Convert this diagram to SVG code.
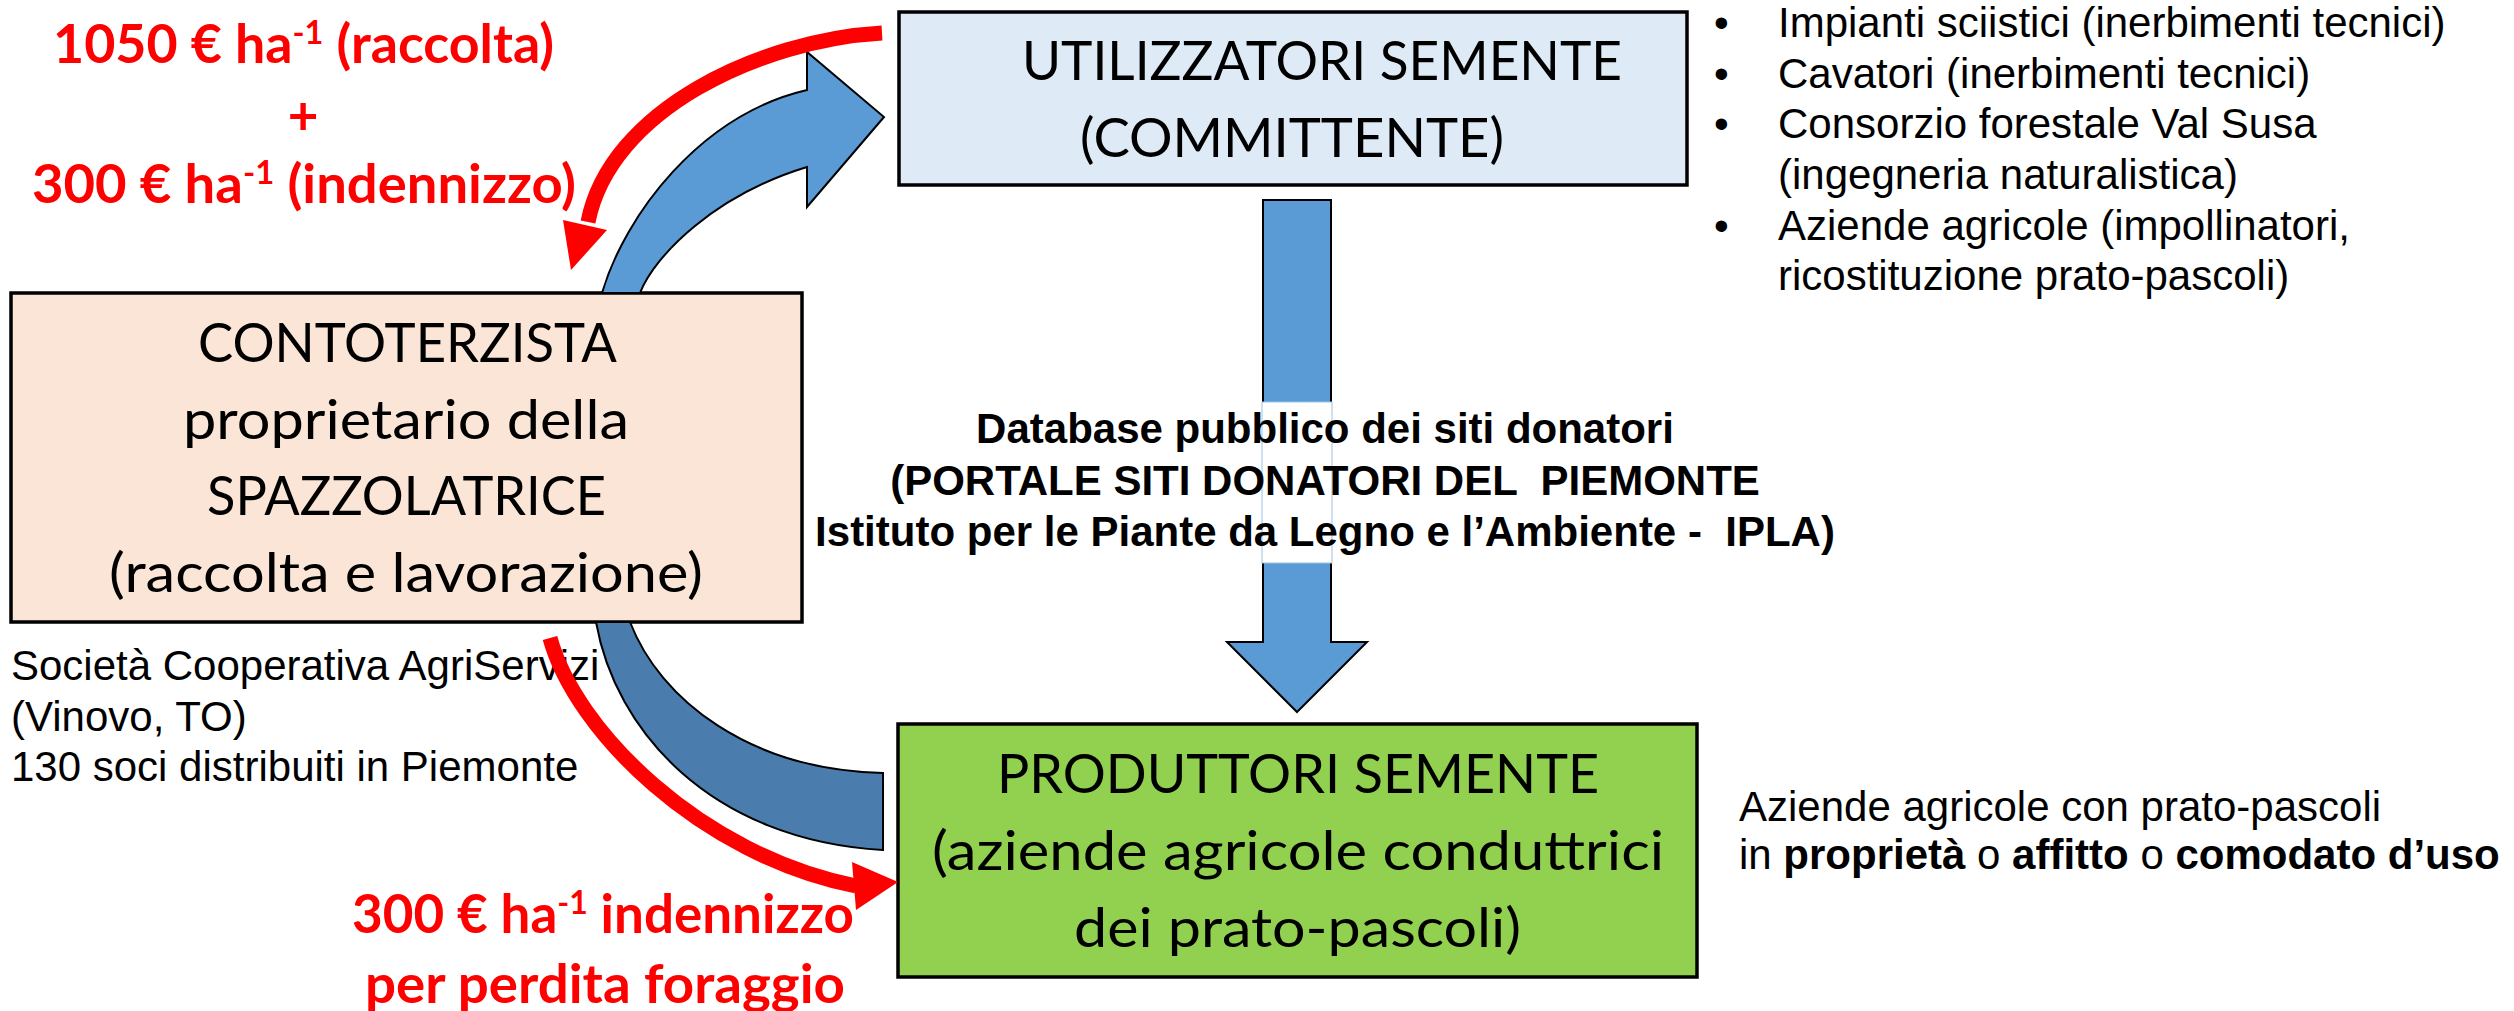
<svg xmlns="http://www.w3.org/2000/svg" width="2514" height="1011" viewBox="0 0 2514 1011">
<defs>
<style>
.box{stroke:#000;stroke-width:3.5}
.cal{font-family:Lato,'Open Sans',sans-serif;font-size:55px;fill:#000}
.red{font-family:Lato,'Open Sans',sans-serif;font-size:53px;font-weight:bold;fill:#f00}
.ar{font-family:'Liberation Sans',Arial,sans-serif;font-size:42px;fill:#000}
.arb{font-family:'Liberation Sans',Arial,sans-serif;font-size:42px;font-weight:bold;fill:#000}
.b{font-weight:bold}
.blue{fill:#5B9BD5;stroke:#000;stroke-width:2}
.dblue{fill:#4A7DAE;stroke:#000;stroke-width:2}
.rline{fill:none;stroke:#f00;stroke-width:15}
.rhead{fill:#f00}
</style>
</defs>
<rect width="2514" height="1011" fill="#fff"/>

<g id="utilizzatori">
<rect x="899" y="12" width="788" height="173" fill="#DEEBF7" class="box"/>
<text class="cal" x="1022" y="80" textLength="600" lengthAdjust="spacingAndGlyphs">UTILIZZATORI SEMENTE</text>
<text class="cal" x="1080" y="157" textLength="424" lengthAdjust="spacingAndGlyphs">(COMMITTENTE)</text>
</g>

<g id="utilizzatori-list" class="ar">
<text x="1714" y="37">•</text><text x="1778" y="37">Impianti sciistici (inerbimenti tecnici)</text>
<text x="1714" y="88">•</text><text x="1778" y="88">Cavatori (inerbimenti tecnici)</text>
<text x="1714" y="138">•</text><text x="1778" y="138">Consorzio forestale Val Susa</text>
<text x="1778" y="189">(ingegneria naturalistica)</text>
<text x="1714" y="240">•</text><text x="1778" y="240">Aziende agricole (impollinatori,</text>
<text x="1778" y="290">ricostituzione prato-pascoli)</text>
</g>

<g id="contoterzista">
<rect x="11" y="293" width="791" height="329" fill="#FBE5D6" class="box"/>
<text class="cal" x="198" y="362" textLength="419" lengthAdjust="spacingAndGlyphs">CONTOTERZISTA</text>
<text class="cal" x="183" y="439" textLength="446" lengthAdjust="spacingAndGlyphs">proprietario della</text>
<text class="cal" x="207" y="515" textLength="399" lengthAdjust="spacingAndGlyphs">SPAZZOLATRICE</text>
<text class="cal" x="109" y="592" textLength="594" lengthAdjust="spacingAndGlyphs">(raccolta e lavorazione)</text>
</g>

<g id="contoterzista-info" class="ar">
<text x="11" y="680">Società Cooperativa AgriServizi</text>
<text x="11" y="731">(Vinovo, TO)</text>
<text x="11" y="781">130 soci distribuiti in Piemonte</text>
</g>

<g id="produttori">
<rect x="898" y="724" width="799" height="253" fill="#92D050" class="box"/>
<text class="cal" x="997" y="793" textLength="602" lengthAdjust="spacingAndGlyphs">PRODUTTORI SEMENTE</text>
<text class="cal" x="932" y="870" textLength="732" lengthAdjust="spacingAndGlyphs">(aziende agricole conduttrici</text>
<text class="cal" x="1074" y="947" textLength="447" lengthAdjust="spacingAndGlyphs">dei prato-pascoli)</text>
</g>

<g id="produttori-info" class="ar">
<text x="1739" y="821">Aziende agricole con prato-pascoli</text>
<text x="1739" y="869">in <tspan class="b">proprietà</tspan> o <tspan class="b">affitto</tspan> o <tspan class="b">comodato d’uso</tspan></text>
</g>

<g id="connectors">
<path class="blue" d="M602,293 C625,215 700,115 807,90 L807,52 L884,117 L807,207 L807,167 C715,195 655,255 640,293 Z"/>
<path class="dblue" d="M596,622 C615,730 710,840 883,850 L883,773 C750,770 660,700 630,622 Z"/>
<path class="blue" d="M1263,200 L1331,200 L1331,642 L1367,642 L1297,712 L1227,642 L1263,642 Z"/>
<path class="rline" d="M882,33 C760,40 610,110 588,222"/>
<polygon class="rhead" points="563,220 607,230 571,270"/>
<path class="rline" d="M550,638 C575,730 700,855 856,886"/>
<polygon class="rhead" points="852,862 898,882 856,910"/>
</g>

<g id="label-payment-top" class="red">
<text x="53" y="63" textLength="501" lengthAdjust="spacingAndGlyphs">1050 € ha<tspan dy="-19" font-size="32">-1</tspan><tspan dy="19"> (raccolta)</tspan></text>
<text x="303" y="135" text-anchor="middle">+</text>
<text x="32" y="203" textLength="544" lengthAdjust="spacingAndGlyphs">300 € ha<tspan dy="-19" font-size="32">-1</tspan><tspan dy="19"> (indennizzo)</tspan></text>
</g>

<g id="label-payment-bottom" class="red">
<text x="352" y="933" textLength="502" lengthAdjust="spacingAndGlyphs">300 € ha<tspan dy="-19" font-size="32">-1</tspan><tspan dy="19"> indennizzo</tspan></text>
<text x="365" y="1003" textLength="480" lengthAdjust="spacingAndGlyphs">per perdita foraggio</text>
</g>

<g id="label-database">
<rect x="1262" y="402" width="70" height="161" fill="#fff" stroke="#9DC3E6" stroke-width="1"/>
<text class="arb" x="1325" y="443" text-anchor="middle">Database pubblico dei siti donatori</text>
<text class="arb" x="1325" y="495" text-anchor="middle" xml:space="preserve">(PORTALE SITI DONATORI DEL  PIEMONTE</text>
<text class="arb" x="1325" y="546" text-anchor="middle" xml:space="preserve">Istituto per le Piante da Legno e l’Ambiente -  IPLA)</text>
</g>
</svg>
